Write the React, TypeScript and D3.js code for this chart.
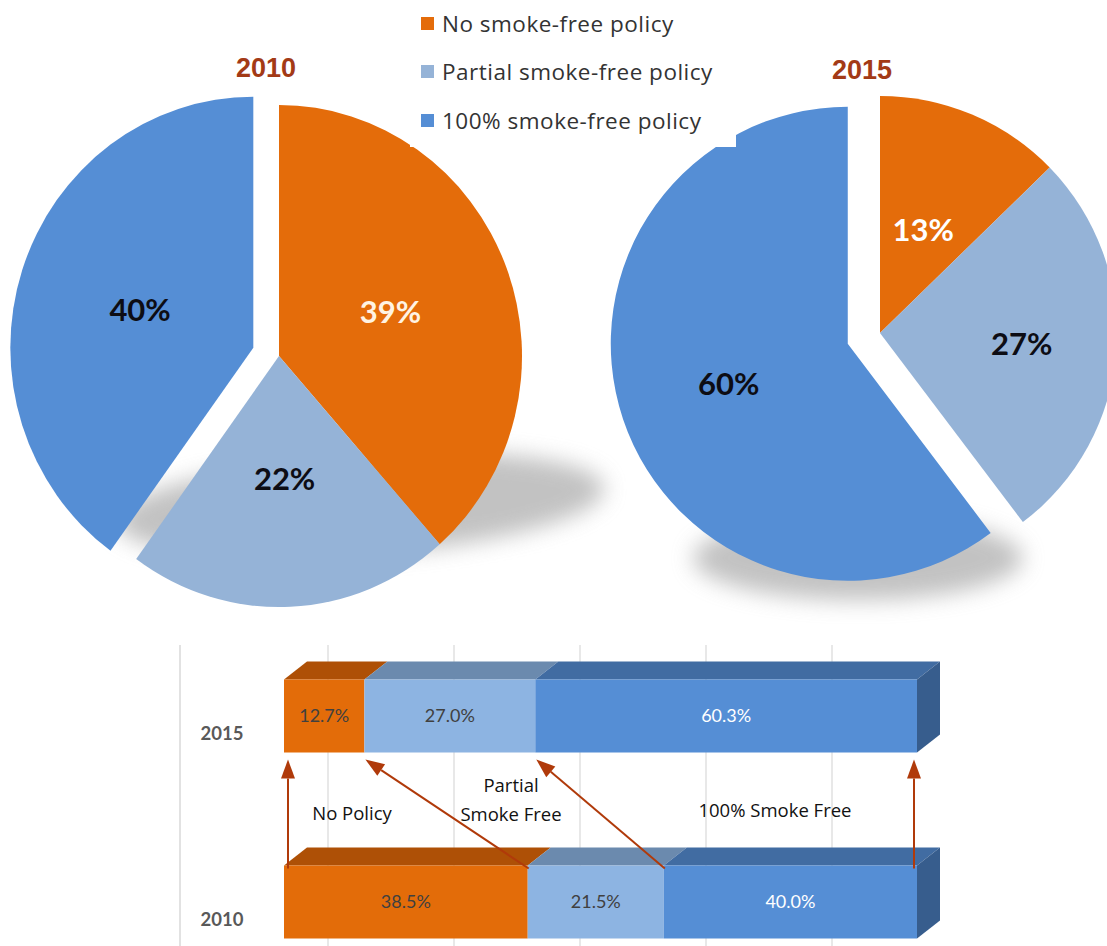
import React from 'react';
import * as d3 from 'd3';

// ---------- data ----------
const categories = ['No smoke-free policy', 'Partial smoke-free policy', '100% smoke-free policy'];
const barYears = ['2015', '2010'];
const values2010 = [38.5, 21.5, 40.0];
const values2015 = [12.7, 27.0, 60.3];
const gridTicks = [0.2, 0.4, 0.6, 0.8, 1.0];
const annotationNoPolicy = ['No Policy'];
const annotationPartial = ['Partial', 'Smoke Free'];
const annotationFull = ['100% Smoke Free'];

// ---------- styles ----------
const PIE_COLORS = ['#E46C0A', '#95B3D7', '#558ED5'];
const BAR_FRONT = ['#E36C09', '#8DB4E2', '#558ED5'];
const BAR_TOP = ['#AE5006', '#6B8AAE', '#416CA2'];
const BAR_SIDE = '#375D8D';
const ARROW = '#B03A0A';
const TITLE = '#A33A16';
const FONT = 'Lato, "Open Sans", sans-serif';
const FONT2 = '"Open Sans", Lato, sans-serif';

const pieConfigs = [
  {
    year: '2010', values: values2010, cx: 279, cy: 356, rx: 243, ry: 251, explode: 27, explodeIndex: 2,
    labelF: [0.49, 0.49, 0.49], labelColors: ['#FFF3E3', '#0d0d14', '#0d0d14'], titleX: 266, titleY: 77,
    shadow: { cx: 360, cy: 505, rx: 245, ry: 50, rot: -4 },
  },
  {
    year: '2015', values: values2015, cx: 880, cy: 333, rx: 237, ry: 237, explode: 34, explodeIndex: 2,
    labelF: [0.47, 0.6, 0.53], labelColors: ['#ffffff', '#0d0d14', '#0d0d14'], titleX: 862, titleY: 79,
    shadow: { cx: 858, cy: 558, rx: 165, ry: 42, rot: 0 },
  },
];

function Pie({ cfg }: { cfg: any }) {
  const pie = d3.pie<number>().sort(null).value((d) => d);
  const arcs = pie(cfg.values);
  const arc = d3.arc<d3.PieArcDatum<number>>().innerRadius(0).outerRadius(cfg.ry);
  const sx = cfg.rx / cfg.ry;
  return (
    <g>
      <ellipse
        cx={cfg.shadow.cx}
        cy={cfg.shadow.cy}
        rx={cfg.shadow.rx}
        ry={cfg.shadow.ry}
        transform={`rotate(${cfg.shadow.rot} ${cfg.shadow.cx} ${cfg.shadow.cy})`}
        fill="#9a9a9a"
        opacity={0.6}
        filter="url(#pieShadow)"
      />
      {arcs.map((a, i) => {
        const mid = (a.startAngle + a.endAngle) / 2;
        const off = i === cfg.explodeIndex ? cfg.explode : 0;
        const ox = Math.sin(mid) * off;
        const oy = -Math.cos(mid) * off;
        return (
          <path
            key={i}
            d={arc(a) as string}
            fill={PIE_COLORS[i]}
            transform={`translate(${cfg.cx + ox},${cfg.cy + oy}) scale(${sx},1)`}
          />
        );
      })}
      {arcs.map((a, i) => {
        const mid = (a.startAngle + a.endAngle) / 2;
        const off = i === cfg.explodeIndex ? cfg.explode : 0;
        const x = cfg.cx + Math.sin(mid) * (off + cfg.rx * cfg.labelF[i]);
        const y = cfg.cy - Math.cos(mid) * (off + cfg.ry * cfg.labelF[i]);
        return (
          <text
            key={'l' + i}
            x={x}
            y={y}
            dy="0.35em"
            textAnchor="middle"
            fontFamily={FONT}
            fontWeight="bold"
            fontSize={31}
            fill={cfg.labelColors[i]}
          >
            {Math.round(a.data) + '%'}
          </text>
        );
      })}
    </g>
  );
}

export default function App() {
  const x = d3.scaleLinear().domain([0, 100]).range([284, 917]);
  const gx = d3.scaleLinear().domain([0, 1]).range([202, 832]);
  const y = d3.scalePoint<string>().domain(barYears).range([716, 902]);
  const barH = 73;
  const ddx = 23;
  const ddy = 18;
  const barData: Record<string, number[]> = { '2015': values2015, '2010': values2010 };

  const stacks = barYears.map((yr) => {
    const vals = barData[yr];
    const cum = d3.cumsum(vals);
    return vals.map((v, i) => ({ yr, i, v, x0: i === 0 ? 0 : cum[i - 1], x1: cum[i] }));
  });

  const cum2010 = [0, ...Array.from(d3.cumsum(values2010))];
  const cum2015 = [0, ...Array.from(d3.cumsum(values2015))];
  const inset = (c: number) => (c <= 0.001 ? 4 : c >= 99.9 ? -3 : 1);

  const legendY = [24, 72, 121];

  return (
    <svg
      width={1107}
      height={946}
      style={{ position: 'absolute', left: 0, top: 0, background: '#fff' }}
      xmlns="http://www.w3.org/2000/svg"
    >
      <defs>
        <filter id="pieShadow" x="-30%" y="-80%" width="160%" height="260%">
          <feGaussianBlur stdDeviation="11" />
        </filter>
      </defs>
      <rect width={1107} height={946} fill="#fff" />

      {pieConfigs.map((cfg) => (
        <Pie key={cfg.year} cfg={cfg} />
      ))}

      {/* legend box (white, covers the pies) */}
      <rect x={410} y={0} width={326} height={147} fill="#fff" />
      {categories.map((c, i) => (
        <g key={c}>
          <rect x={421} y={legendY[i] - 7} width={13} height={13} fill={PIE_COLORS[i]} />
          <text
            x={442}
            y={legendY[i]}
            dy="0.35em"
            fontFamily={FONT2}
            fontSize={22.5}
            letterSpacing={0.5}
            fill="#333"
          >
            {c}
          </text>
        </g>
      ))}

      {pieConfigs.map((cfg) => (
        <text
          key={'t' + cfg.year}
          x={cfg.titleX}
          y={cfg.titleY}
          textAnchor="middle"
          fontFamily='"Liberation Sans", Arial, sans-serif'
          fontWeight="bold"
          fontSize={27}
          fill={TITLE}
        >
          {cfg.year}
        </text>
      ))}

      {/* bar chart */}
      <line x1={180} x2={180} y1={645} y2={946} stroke="#d9d9d9" strokeWidth={1.5} />
      {gridTicks.map((t) => (
        <line key={t} x1={gx(t)} x2={gx(t)} y1={645} y2={946} stroke="#d9d9d9" strokeWidth={1.2} />
      ))}

      {stacks.map((segs) =>
        segs.map((s) => {
          const yc = y(s.yr) as number;
          const top = yc - barH / 2;
          const bot = yc + barH / 2;
          const X0 = x(s.x0);
          const X1 = x(s.x1);
          const topFace = `M${X0},${top} L${X0 + ddx},${top - ddy} L${X1 + ddx},${top - ddy} L${X1},${top} Z`;
          return (
            <g key={s.yr + s.i}>
              <path d={topFace} fill={BAR_TOP[s.i]} />
              <rect x={X0} y={top} width={X1 - X0} height={barH} fill={BAR_FRONT[s.i]} />
              {s.i === segs.length - 1 && (
                <path
                  d={`M${X1},${top} L${X1 + ddx},${top - ddy} L${X1 + ddx},${bot - ddy} L${X1},${bot} Z`}
                  fill={BAR_SIDE}
                />
              )}
              <text
                x={(X0 + X1) / 2}
                y={yc}
                dy="0.35em"
                textAnchor="middle"
                fontFamily={FONT}
                fontSize={18}
                fill={s.i === 2 ? '#ffffff' : '#404040'}
              >
                {s.v.toFixed(1) + '%'}
              </text>
            </g>
          );
        })
      )}

      {barYears.map((yr) => (
        <text
          key={'c' + yr}
          x={222}
          y={(y(yr) as number) + 24}
          textAnchor="middle"
          fontFamily={FONT}
          fontWeight="bold"
          fontSize={18.5}
          fill="#595959"
        >
          {yr}
        </text>
      ))}

      {/* arrows */}
      {cum2010.map((c0, i) => {
        const c1 = cum2015[i];
        const x0 = x(c0) + inset(c0);
        const x1 = x(c1) + inset(c1);
        const y0 = (y('2010') as number) - barH / 2 + 3;
        const yTip = (y('2015') as number) + barH / 2 + 7;
        const ang = Math.atan2(yTip - y0, x1 - x0);
        const L = 19;
        const W = 7;
        const bx = x1 - Math.cos(ang) * L;
        const by = yTip - Math.sin(ang) * L;
        const px = -Math.sin(ang) * W;
        const py = Math.cos(ang) * W;
        return (
          <g key={'a' + i}>
            <line x1={x0} y1={y0} x2={bx} y2={by} stroke={ARROW} strokeWidth={2} />
            <path d={`M${x1},${yTip} L${bx + px},${by + py} L${bx - px},${by - py} Z`} fill={ARROW} />
          </g>
        );
      })}

      {/* annotations */}
      <text x={352} y={820} textAnchor="middle" fontFamily={FONT2} fontSize={18.5} fill="#111">
        {annotationNoPolicy[0]}
      </text>
      {annotationPartial.map((t, i) => (
        <text key={t} x={511} y={792 + i * 29} textAnchor="middle" fontFamily={FONT2} fontSize={18.5} fill="#111">
          {t}
        </text>
      ))}
      <text x={775} y={817} textAnchor="middle" fontFamily={FONT2} fontSize={18.5} fill="#111">
        {annotationFull[0]}
      </text>
    </svg>
  );
}
